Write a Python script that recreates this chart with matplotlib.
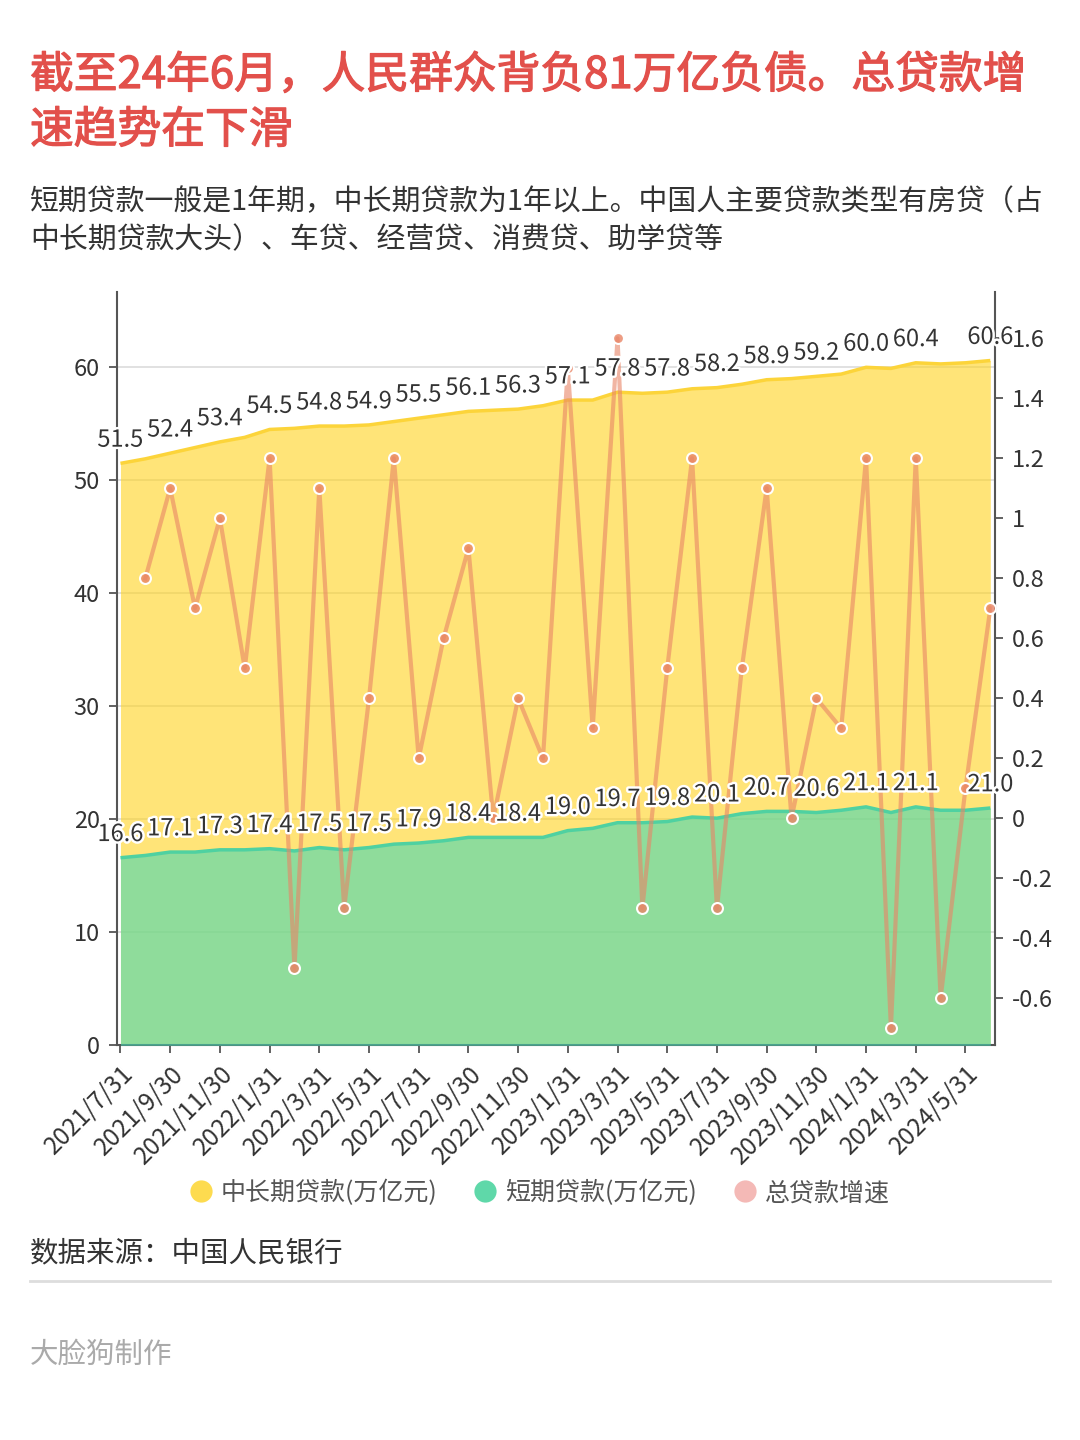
import numpy as np
import matplotlib
matplotlib.use('Agg')
import matplotlib.pyplot as plt
import matplotlib.patheffects as pe
from matplotlib.lines import Line2D

plt.rcParams['font.family'] = ['Noto Sans CJK SC', 'DejaVu Sans']

months = ['2021/7/31', '2021/8/31', '2021/9/30', '2021/10/31', '2021/11/30', '2021/12/31',
          '2022/1/31', '2022/2/28', '2022/3/31', '2022/4/30', '2022/5/31', '2022/6/30',
          '2022/7/31', '2022/8/31', '2022/9/30', '2022/10/31', '2022/11/30', '2022/12/31',
          '2023/1/31', '2023/2/28', '2023/3/31', '2023/4/30', '2023/5/31', '2023/6/30',
          '2023/7/31', '2023/8/31', '2023/9/30', '2023/10/31', '2023/11/30', '2023/12/31',
          '2024/1/31', '2024/2/29', '2024/3/31', '2024/4/30', '2024/5/31', '2024/6/30']

long_term = [51.5, 51.9, 52.4, 52.9, 53.4, 53.8, 54.5, 54.6, 54.8, 54.8, 54.9, 55.2,
             55.5, 55.8, 56.1, 56.2, 56.3, 56.6, 57.1, 57.1, 57.8, 57.7, 57.8, 58.1,
             58.2, 58.5, 58.9, 59.0, 59.2, 59.4, 60.0, 59.9, 60.4, 60.3, 60.4, 60.6]

short_term = [16.6, 16.8, 17.1, 17.1, 17.3, 17.3, 17.4, 17.2, 17.5, 17.3, 17.5, 17.8,
              17.9, 18.1, 18.4, 18.4, 18.4, 18.4, 19.0, 19.2, 19.7, 19.7, 19.8, 20.2,
              20.1, 20.5, 20.7, 20.7, 20.6, 20.8, 21.1, 20.6, 21.1, 20.8, 20.8, 21.0]

growth = [None, 0.8, 1.1, 0.7, 1.0, 0.5, 1.2, -0.5, 1.1, -0.3, 0.4, 1.2,
          0.2, 0.6, 0.9, 0.0, 0.4, 0.2, 1.5, 0.3, 1.6, -0.3, 0.5, 1.2,
          -0.3, 0.5, 1.1, 0.0, 0.4, 0.3, 1.2, -0.7, 1.2, -0.6, 0.1, 0.7]

series_names = ['中长期贷款(万亿元)', '短期贷款(万亿元)', '总贷款增速']
label_idx = list(range(0, 33, 2)) + [35]

title_lines = ['截至24年6月，人民群众背负81万亿负债。总贷款增', '速趋势在下滑']
subtitle_lines = ['短期贷款一般是1年期，中长期贷款为1年以上。中国人主要贷款类型有房贷（占',
                  '中长期贷款大头）、车贷、经营贷、消费贷、助学贷等']
source_text = '数据来源：中国人民银行'
maker_text = '大脸狗制作'

W, H = 1080, 1440
fig = plt.figure(figsize=(W / 100, H / 100), dpi=100)
fig.patch.set_facecolor('white')

def fy(py):
    return 1 - py / H

# Title and subtitle
red = '#e2504b'
thick = [pe.withStroke(linewidth=0.9, foreground=red)]
fig.text(30 / W, fy(75), title_lines[0], color=red, fontsize=31.5, va='center', ha='left', path_effects=thick)
fig.text(30 / W, fy(130), title_lines[1], color=red, fontsize=31.5, va='center', ha='left', path_effects=thick)
fig.text(30 / W, fy(202), subtitle_lines[0], color='#333333', fontsize=20.8, va='center', ha='left')
fig.text(30 / W, fy(240), subtitle_lines[1], color='#333333', fontsize=20.8, va='center', ha='left')

# Axes
left, right, bottom, top = 116.5, 995.3, 1045.3, 292
ax = fig.add_axes([left / W, fy(bottom), (right - left) / W, (bottom - top) / H])
x = np.arange(len(months))
ax.set_xlim(-0.16, 35.2)
ax.set_ylim(0, (bottom - top) / 11.3)

ax.fill_between(x, long_term, color='#ffd21f', alpha=0.6, lw=0, zorder=2)
ax.plot(x, long_term, color='#fcd43a', lw=2.5, zorder=3, solid_capstyle='butt')
ax.fill_between(x, short_term, color='#44d8b3', alpha=0.6, lw=0, zorder=4)
ax.plot(x, short_term, color='#4fd1a1', lw=2.5, zorder=5, solid_capstyle='butt')

ax.set_yticks(range(0, 61, 10))
ax.grid(axis='y', color='#dcdcdc', lw=1.2)
ax.set_axisbelow(True)
ax.set_xticks(x[::2])
ax.set_xticklabels(months[::2], rotation=45, ha='right', rotation_mode='anchor')

axis_col = '#555555'
for s in ['top', 'right']:
    ax.spines[s].set_visible(False)
for s in ['left', 'bottom']:
    ax.spines[s].set_color(axis_col)
    ax.spines[s].set_linewidth(1.5)
ax.tick_params(axis='both', colors=axis_col, labelcolor='#333333', length=6, width=1.3, labelsize=17)
ax.tick_params(axis='x', pad=5, labelsize=17.5)
ax.tick_params(axis='y', pad=6)

ax2 = ax.twinx()
zero_px = 818.3
per_unit = 300.0
ax2.set_ylim(-(bottom - zero_px) / per_unit, (zero_px - top) / per_unit)
rt = np.round(np.arange(-0.6, 1.61, 0.2), 1)
ax2.set_yticks(rt)
ax2.set_yticklabels([('0' if abs(v) < 1e-9 else f'{v:g}') for v in rt])
for s in ['top', 'left', 'bottom']:
    ax2.spines[s].set_visible(False)
ax2.spines['right'].set_color(axis_col)
ax2.spines['right'].set_linewidth(1.5)
ax2.tick_params(axis='y', colors=axis_col, labelcolor='#333333', length=6, width=1.3, labelsize=17, pad=6)

g = np.array([np.nan if v is None else v for v in growth], dtype=float)
lc = (233 / 255, 133 / 255, 102 / 255)
ax2.plot(x, g, color=lc, alpha=0.6, lw=3, zorder=3)
ax2.scatter(x, g, s=62, facecolors=[lc + (0.8,)], edgecolors='white', linewidths=1.5, zorder=4)

halo = [pe.withStroke(linewidth=3.5, foreground='white')]
for i in label_idx:
    for vals in (long_term, short_term):
        ax2.annotate(f'{vals[i]:.1f}', xy=(x[i], vals[i]), xycoords=ax.transData,
                     xytext=(0, 12), textcoords='offset points', ha='center', va='baseline',
                     fontsize=17, color='#333333', path_effects=halo, zorder=10,
                     annotation_clip=False)

# Legend
handles = [Line2D([], [], marker='o', ls='', markersize=16, markerfacecolor=c, markeredgecolor='none')
           for c in ['#fddb4f', '#5fd8a9', '#f4b9b6']]
fig.legend(handles=handles, labels=series_names, loc='center', bbox_to_anchor=(539 / W, fy(1193)),
           ncol=3, frameon=False, fontsize=18, handletextpad=0.3, columnspacing=1.4,
           labelcolor='#555555', handlelength=1.0)

fig.text(30 / W, fy(1253), source_text, color='#333333', fontsize=20.5, va='center', ha='left')
fig.add_artist(Line2D([30 / W, 1050 / W], [fy(1281), fy(1281)], color='#dddddd', lw=2))
fig.text(30 / W, fy(1355), maker_text, color='#aaaaaa', fontsize=20.5, va='center', ha='left')

fig.savefig('out.png', dpi=100, facecolor='white')
